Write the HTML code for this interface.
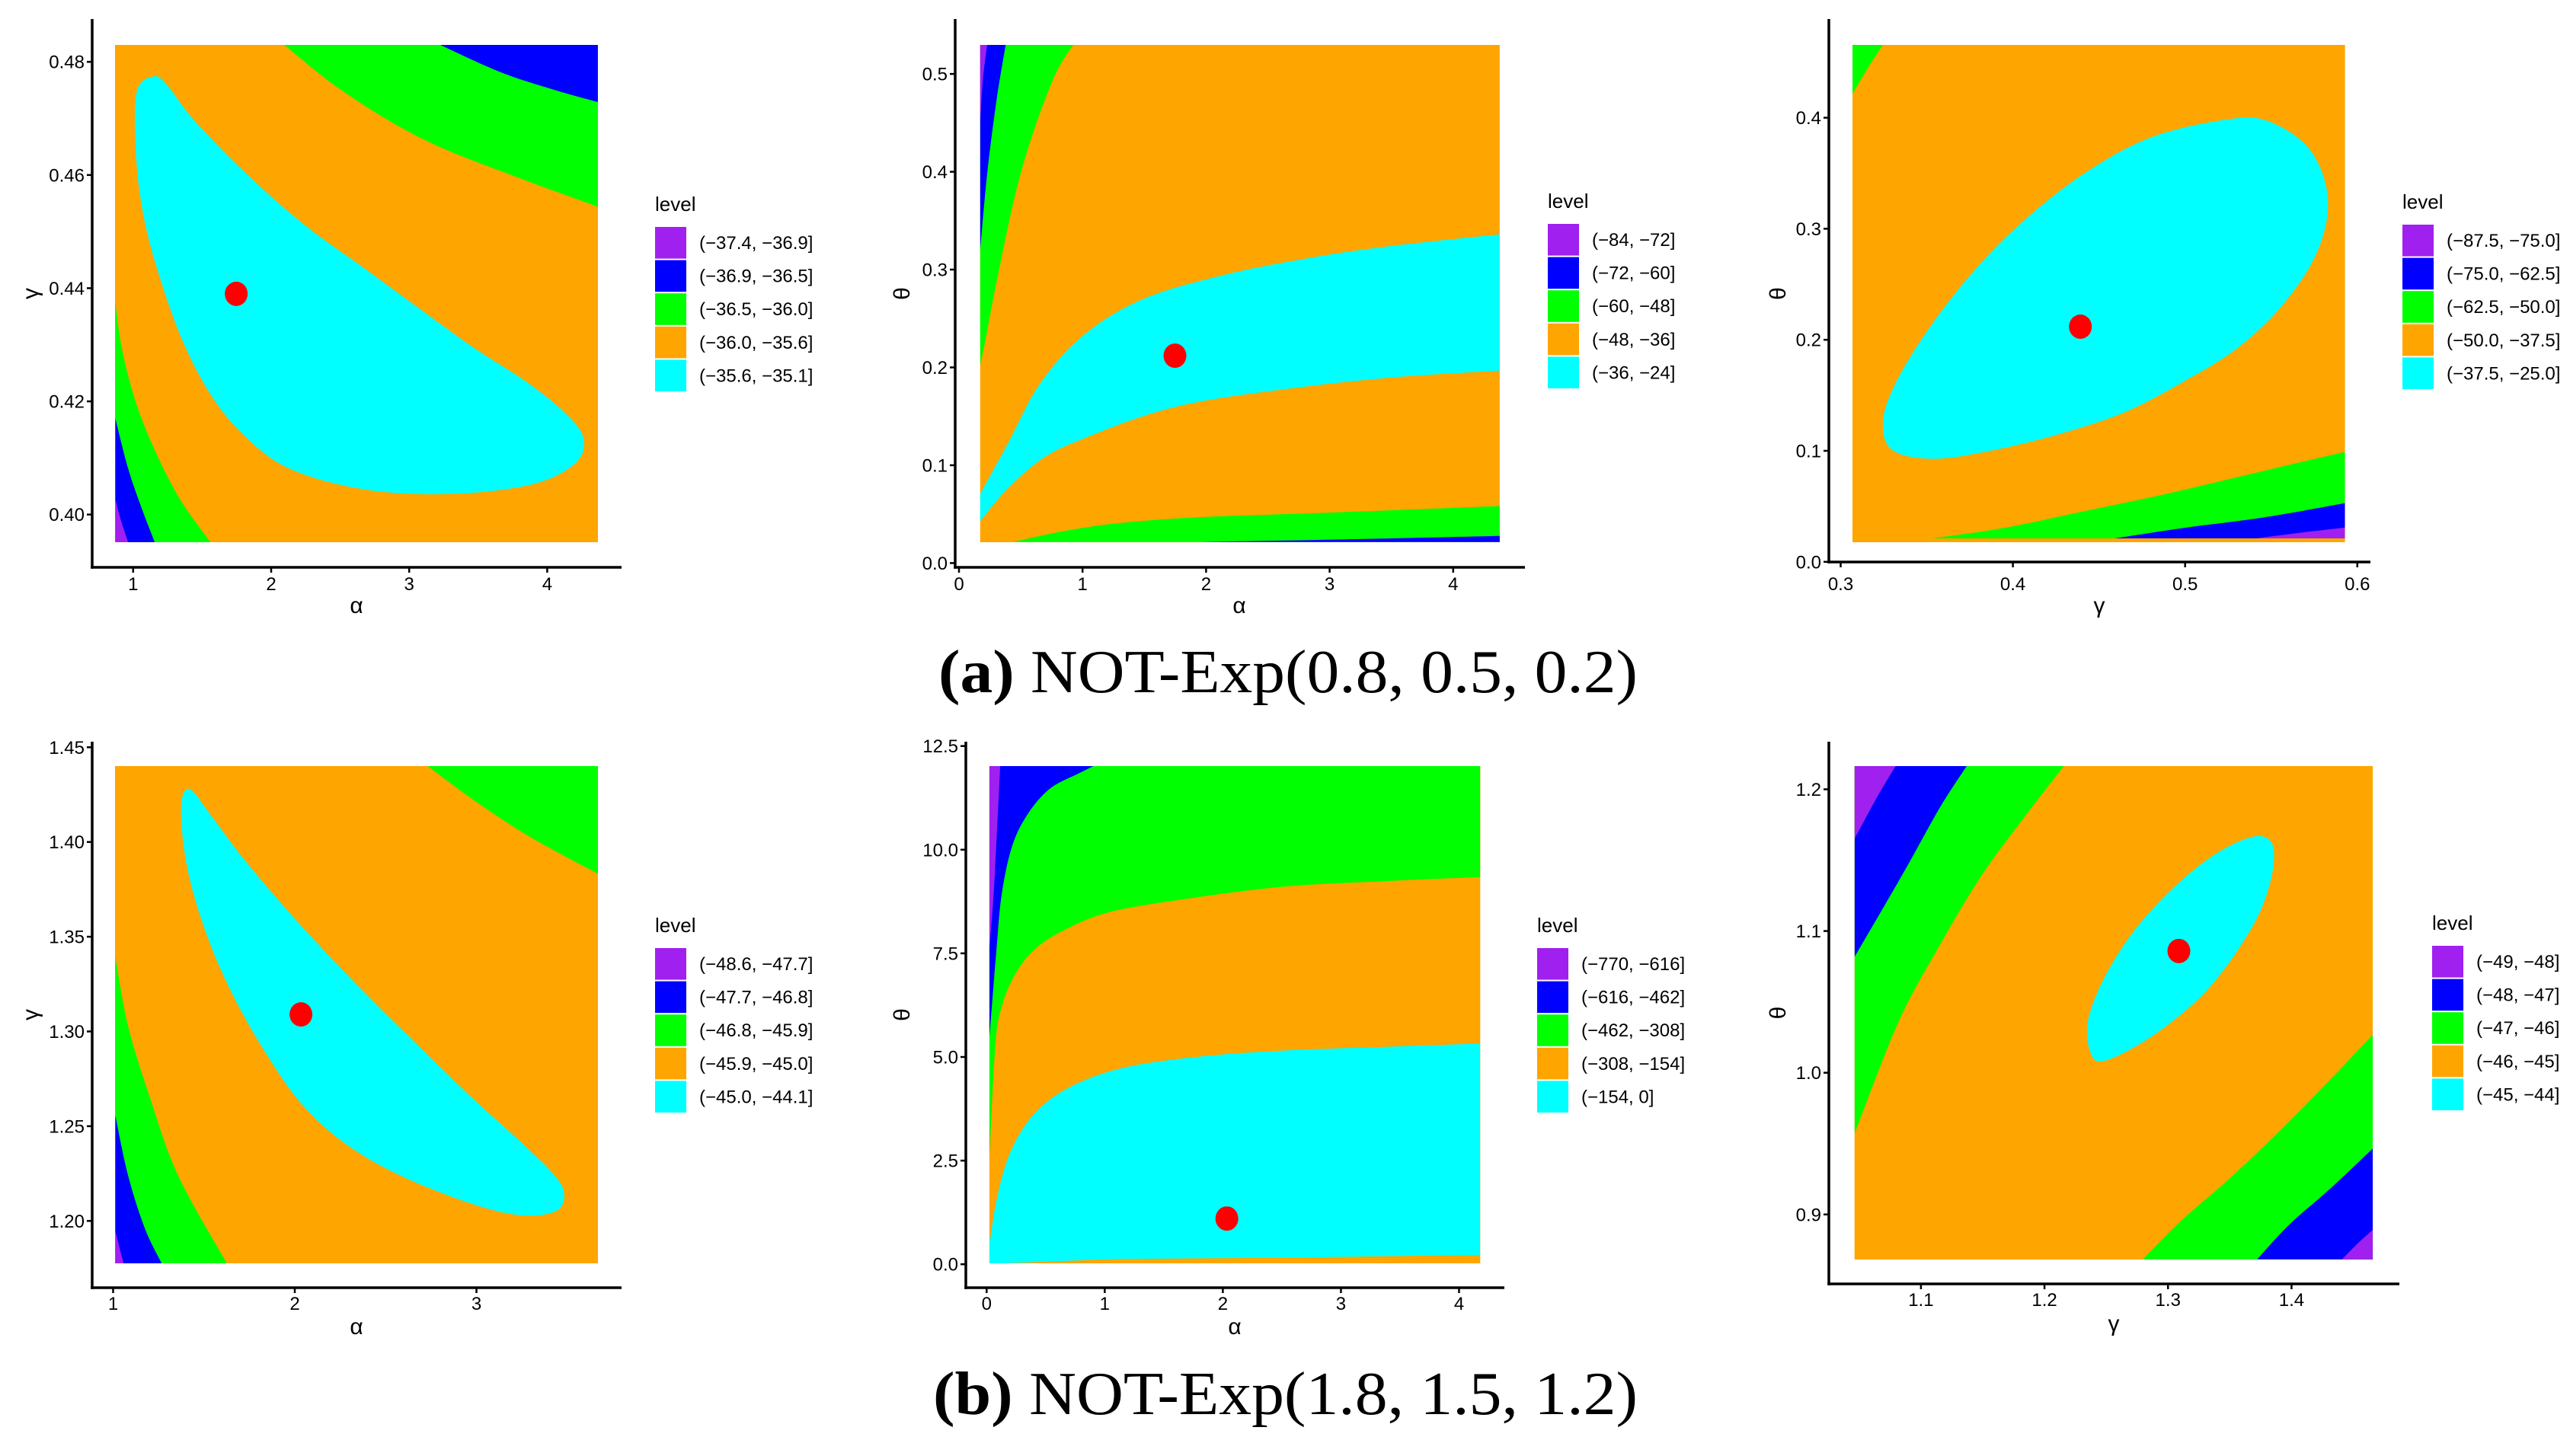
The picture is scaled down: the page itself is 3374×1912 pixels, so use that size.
<!DOCTYPE html>
<html><head><meta charset="utf-8"><style>
html,body{margin:0;padding:0;background:#fff;}
svg{display:block;}
text{font-family:"Liberation Sans",sans-serif;fill:#000;}
.cap{font-family:"Liberation Serif",serif;font-size:80px;}
</style></head><body>
<svg id="fig" width="3374" height="1912" viewBox="0 0 3374 1912" xmlns="http://www.w3.org/2000/svg">
<text class="cap" x="1232" y="909" textLength="918" lengthAdjust="spacingAndGlyphs"><tspan font-weight="bold">(a)</tspan> NOT-Exp(0.8, 0.5, 0.2)</text>
<text class="cap" x="1225" y="1857" textLength="925" lengthAdjust="spacingAndGlyphs"><tspan font-weight="bold">(b)</tspan> NOT-Exp(1.8, 1.5, 1.2)</text>
</svg>
<script>
// ---------- data ----------
const colors = ["#A020F0","#0000FF","#00FF00","#FFA500","#00FFFF"];
const p1Levels = ["(−37.4, −36.9]","(−36.9, −36.5]","(−36.5, −36.0]","(−36.0, −35.6]","(−35.6, −35.1]"];
const p2Levels = ["(−84, −72]","(−72, −60]","(−60, −48]","(−48, −36]","(−36, −24]"];
const p3Levels = ["(−87.5, −75.0]","(−75.0, −62.5]","(−62.5, −50.0]","(−50.0, −37.5]","(−37.5, −25.0]"];
const p4Levels = ["(−48.6, −47.7]","(−47.7, −46.8]","(−46.8, −45.9]","(−45.9, −45.0]","(−45.0, −44.1]"];
const p5Levels = ["(−770, −616]","(−616, −462]","(−462, −308]","(−308, −154]","(−154, 0]"];
const p6Levels = ["(−49, −48]","(−48, −47]","(−47, −46]","(−46, −45]","(−45, −44]"];

const p1XTicks = [1,2,3,4];
const p1YTicks = [0.40,0.42,0.44,0.46,0.48];
const p2XTicks = [0,1,2,3,4];
const p2YTicks = [0.0,0.1,0.2,0.3,0.4,0.5];
const p3XTicks = [0.3,0.4,0.5,0.6];
const p3YTicks = [0.0,0.1,0.2,0.3,0.4];
const p4XTicks = [1,2,3];
const p4YTicks = [1.20,1.25,1.30,1.35,1.40,1.45];
const p5XTicks = [0,1,2,3,4];
const p5YTicks = [0.0,2.5,5.0,7.5,10.0,12.5];
const p6XTicks = [1.1,1.2,1.3,1.4];
const p6YTicks = [0.9,1.0,1.1,1.2];

// estimate points (MLE)
const p1Mle = [1.747,0.439];
const p2Mle = [1.748,0.212];
const p3Mle = [0.4392,0.2118];
const p4Mle = [2.034,1.309];
const p5Mle = [2.034,1.102];
const p6Mle = [1.3088,1.0859];

// contour region boundaries (data units)
const p1GreenTR = [[2.094,0.483],[2.457,0.4759],[2.861,0.4695],[3.265,0.4645],[3.870,0.4588],[4.367,0.4544]];
const p1BlueTR = [[3.224,0.483],[3.669,0.4781],[4.072,0.4749],[4.367,0.4729]];
const p1Cyan = [[1.145,0.4774],[1.024,0.4745],[1.024,0.4624],[1.085,0.4516],[1.206,0.4409],[1.367,0.4302],[1.569,0.4209],[1.811,0.4138],[2.134,0.4081],[2.659,0.4045],[3.265,0.4036],[3.870,0.4052],[4.193,0.4088],[4.266,0.4131],[4.153,0.4174],[3.870,0.4231],[3.467,0.4295],[3.063,0.4366],[2.659,0.4438],[2.256,0.4509],[1.852,0.4595],[1.448,0.4695],[1.246,0.4759]];
const p1GreenL = [[0.871,0.4374],[0.923,0.4288],[1.024,0.4195],[1.166,0.4109],[1.347,0.4024],[1.561,0.3951]];
const p1BlueL = [[0.871,0.4170],[0.964,0.4081],[1.065,0.4009],[1.157,0.3951]];
const p1PurpleL = [[0.871,0.4027],[0.914,0.3988],[0.964,0.3951]];

const p2GreenTL = [[0.926,0.5298],[0.786,0.501],[0.610,0.4434],[0.457,0.3773],[0.303,0.2864],[0.215,0.2285],[0.171,0.2017]];
const p2BlueTL = [[0.378,0.5298],[0.303,0.4723],[0.228,0.398],[0.171,0.319]];
const p2PurpleTL = [[0.228,0.5298],[0.193,0.493],[0.171,0.4475]];
const p2CyanUpper = [[0.171,0.0707],[0.391,0.1211],[0.654,0.1831],[1.005,0.2326],[1.488,0.2698],[2.147,0.2946],[2.806,0.3112],[3.464,0.3236],[4.378,0.3360]];
const p2CyanLower = [[4.378,0.1967],[3.464,0.1893],[2.586,0.1769],[1.928,0.1645],[1.488,0.15],[1.049,0.1293],[0.698,0.1087],[0.391,0.0756],[0.171,0.0426]];
const p2GreenB = [[0.435,0.0215],[0.830,0.0322],[1.269,0.0405],[1.928,0.0467],[3.025,0.0517],[4.378,0.0583]];
const p2BlueB = [[1.950,0.0215],[3.025,0.024],[4.378,0.0277]];

const p3GreenTL = [[0.3245,0.4655],[0.317,0.4477],[0.3069,0.4215]];
const p3Cyan = [[0.3305,0.1001],[0.3245,0.1238],[0.3305,0.1565],[0.3484,0.2038],[0.3753,0.2584],[0.4052,0.3057],[0.4410,0.3494],[0.4799,0.3822],[0.5247,0.3985],[0.5486,0.3967],[0.5725,0.3712],[0.5829,0.3276],[0.5770,0.2803],[0.5575,0.2329],[0.5307,0.1929],[0.5008,0.1638],[0.4649,0.1347],[0.4261,0.1147],[0.3872,0.1001],[0.3544,0.0928]];
const p3GreenB = [[0.3529,0.0211],[0.3962,0.0309],[0.4410,0.0455],[0.4858,0.0601],[0.5307,0.0764],[0.5605,0.0874],[0.5928,0.0990]];
const p3BlueB = [[0.4589,0.0211],[0.5008,0.0309],[0.5456,0.0400],[0.5928,0.0528]];
const p3PurpleB = [[0.5411,0.0211],[0.5665,0.0262],[0.5928,0.0309]];

const p4GreenTR = [[2.730,1.4402],[2.985,1.4221],[3.291,1.4029],[3.669,1.3832]];
const p4Cyan = [[1.420,1.428],[1.374,1.4178],[1.405,1.3879],[1.497,1.3559],[1.635,1.3239],[1.819,1.2919],[2.034,1.2621],[2.279,1.2407],[2.586,1.2237],[2.985,1.2087],[3.261,1.2028],[3.445,1.2056],[3.482,1.2152],[3.414,1.2258],[3.230,1.2429],[2.985,1.2642],[2.709,1.2898],[2.371,1.3218],[2.034,1.3559],[1.727,1.3901],[1.543,1.4135]];
const p4GreenL = [[1.0123,1.3393],[1.083,1.3026],[1.206,1.2642],[1.359,1.2237],[1.626,1.1776]];
const p4BlueL = [[1.0123,1.2557],[1.083,1.2237],[1.175,1.196],[1.267,1.1776]];
const p4PurpleL = [[1.0123,1.1949],[1.037,1.1853],[1.058,1.1776]];

const p5GreenUpper = [[0.023,2.516],[0.073,5.246],[0.129,6.221],[0.243,7.001],[0.404,7.586],[0.634,8.025],[1.001,8.463],[1.552,8.756],[2.471,9.097],[3.389,9.243],[4.179,9.341]];
const p5BlueTL = [[0.909,12.022],[0.771,11.827],[0.542,11.486],[0.358,10.901],[0.220,10.121],[0.129,8.951],[0.083,7.586],[0.023,5.441]];
const p5PurpleTL = [[0.115,12.022],[0.064,9.146],[0.023,7.586]];
const p5CyanUpper = [[0.023,0.468],[0.083,1.541],[0.175,2.516],[0.312,3.296],[0.496,3.881],[0.772,4.368],[1.185,4.758],[1.782,5.002],[2.471,5.148],[3.389,5.246],[4.179,5.324]];
const p5CyanLower = [[4.179,0.224],[2.471,0.156],[1.093,0.127],[0.129,0.0195],[0.023,0.0195]];

const p6GreenTL = [[1.2158,1.2165],[1.1817,1.178],[1.1483,1.1381],[1.115,1.0896],[1.0817,1.0355],[1.0463,0.957]];
const p6BlueTL = [[1.1371,1.2165],[1.115,1.1866],[1.0858,1.141],[1.0463,1.0817]];
const p6PurpleTL = [[1.0796,1.2165],[1.065,1.1952],[1.0463,1.1652]];
const p6GreenBR = [[1.4658,1.0269],[1.4317,0.9955],[1.39,0.9585],[1.3483,0.9242],[1.3108,0.8957],[1.2796,0.8683]];
const p6BlueBR = [[1.4658,0.9465],[1.4317,0.9185],[1.3983,0.8929],[1.3721,0.8683]];
const p6PurpleBR = [[1.4658,0.8892],[1.4525,0.8786],[1.4408,0.8683]];
const p6Cyan = [[1.3692,1.1666],[1.3838,1.1624],[1.385,1.1438],[1.3754,1.1153],[1.3567,1.0868],[1.3317,1.0583],[1.3025,1.0355],[1.2733,1.0183],[1.2483,1.0084],[1.2379,1.0126],[1.235,1.0355],[1.2483,1.0668],[1.2733,1.101],[1.3067,1.1324],[1.34,1.1552]];

// ---------- layout ----------
const NS = "http://www.w3.org/2000/svg";
const svg = document.getElementById('fig');
function mk(tag, attrs, parent){const e=document.createElementNS(NS,tag);for(const k in attrs)e.setAttribute(k,attrs[k]);(parent||svg).appendChild(e);return e;}

const panels = [
 {id:'p1', plot:[151,59,785,712], x0:1, xpx:174.8, xs:181.2, y0:0.48, ypx:81.2, ys:7431, axis:{l:121,t:25,b:745,r:816},
  xt:p1XTicks, yt:p1YTicks, xd:0, yd:2, xl:'α', yl:'γ', ylx:40, xlab:468, xtb:775, xtitle:805, leg:{x:860,y:298}, levels:p1Levels, mle:p1Mle,
  regions:[
   {c:colors[2], segs:[['c',p1GreenTR],['l',[[4.367,0.483]]]]},
   {c:colors[1], segs:[['c',p1BlueTR],['l',[[4.367,0.483]]]]},
   {c:colors[4], closed:p1Cyan},
   {c:colors[2], segs:[['c',p1GreenL],['l',[[0.871,0.3951]]]]},
   {c:colors[1], segs:[['c',p1BlueL],['l',[[0.871,0.3951]]]]},
   {c:colors[0], segs:[['c',p1PurpleL],['l',[[0.871,0.3951]]]]}
  ]},
 {id:'p2', plot:[1286.8,59,1968.9,712], x0:0, xpx:1259.0, xs:162.2, y0:0, ypx:739.4, ys:1284.6, axis:{l:1254,t:25,b:745,r:2002},
  xt:p2XTicks, yt:p2YTicks, xd:0, yd:1, xl:'α', yl:'θ', ylx:1184, xlab:1627, xtb:775, xtitle:805, leg:{x:2032,y:294}, levels:p2Levels, mle:p2Mle,
  regions:[
   {c:colors[2], segs:[['c',p2GreenTL],['l',[[0.171,0.5298]]]]},
   {c:colors[1], segs:[['c',p2BlueTL],['l',[[0.171,0.5298]]]]},
   {c:colors[0], segs:[['c',p2PurpleTL],['l',[[0.171,0.5298]]]]},
   {c:colors[4], segs:[['c',p2CyanUpper],['c',p2CyanLower]]},
   {c:colors[2], segs:[['c',p2GreenB],['l',[[4.378,0.0215]]]]},
   {c:colors[1], segs:[['c',p2BlueB],['l',[[4.378,0.0215]]]]}
  ]},
 {id:'p3', plot:[2432,59,3078.6,712], x0:0.3, xpx:2416.5, xs:2261, y0:0, ypx:737.8, ys:1458, axis:{l:2401,t:25,b:738,r:3112},
  xt:p3XTicks, yt:p3YTicks, xd:1, yd:1, xl:'γ', yl:'θ', ylx:2334, xlab:2756, xtb:775, xtitle:805, leg:{x:3154,y:295}, levels:p3Levels, mle:p3Mle,
  regions:[
   {c:colors[2], segs:[['c',p3GreenTL],['l',[[0.3069,0.4655]]]]},
   {c:colors[4], closed:p3Cyan},
   {c:colors[2], segs:[['c',p3GreenB],['l',[[0.5928,0.0211]]]]},
   {c:colors[1], segs:[['c',p3BlueB],['l',[[0.5928,0.0211]]]]},
   {c:colors[0], segs:[['c',p3PurpleB],['l',[[0.5928,0.0211]]]]}
  ]},
 {id:'p4', plot:[151,1006,785,1659], x0:1, xpx:148.5, xs:238.5, y0:1.45, ypx:981.3, ys:2488, axis:{l:121,t:974,b:1691,r:816},
  xt:p4XTicks, yt:p4YTicks, xd:0, yd:2, xl:'α', yl:'γ', ylx:40, xlab:468, xtb:1720, xtitle:1752, leg:{x:860,y:1245}, levels:p4Levels, mle:p4Mle,
  regions:[
   {c:colors[2], segs:[['c',p4GreenTR],['l',[[3.669,1.4402]]]]},
   {c:colors[4], closed:p4Cyan},
   {c:colors[2], segs:[['c',p4GreenL],['l',[[1.0123,1.1776]]]]},
   {c:colors[1], segs:[['c',p4BlueL],['l',[[1.0123,1.1776]]]]},
   {c:colors[0], segs:[['c',p4PurpleL],['l',[[1.0123,1.1776]]]]}
  ]},
 {id:'p5', plot:[1298.9,1006,1943.3,1659], x0:0, xpx:1295.3, xs:155.05, y0:0, ypx:1660.2, ys:54.44, axis:{l:1268,t:974,b:1691,r:1975},
  xt:p5XTicks, yt:p5YTicks, xd:0, yd:1, xl:'α', yl:'θ', ylx:1184, xlab:1621, xtb:1720, xtitle:1752, leg:{x:2018,y:1245}, levels:p5Levels, mle:p5Mle,
  regions:[
   {c:colors[2], segs:[['c',p5GreenUpper],['l',[[4.179,12.022],[0.023,12.022]]]]},
   {c:colors[1], segs:[['c',p5BlueTL],['l',[[0.023,12.022]]]]},
   {c:colors[0], segs:[['c',p5PurpleTL],['l',[[0.023,12.022]]]]},
   {c:colors[4], segs:[['c',p5CyanUpper],['l',p5CyanLower]]}
  ]},
 {id:'p6', plot:[2434.7,1006,3115.1,1654], x0:1.1, xpx:2521.9, xs:1621.7, y0:1.2, ypx:1036.5, ys:1861, axis:{l:2401,t:974,b:1686,r:3150},
  xt:p6XTicks, yt:p6YTicks, xd:1, yd:1, xl:'γ', yl:'θ', ylx:2334, xlab:2775, xtb:1715, xtitle:1748, leg:{x:3193,y:1242}, levels:p6Levels, mle:p6Mle,
  regions:[
   {c:colors[2], segs:[['c',p6GreenTL],['l',[[1.0463,1.2165]]]]},
   {c:colors[1], segs:[['c',p6BlueTL],['l',[[1.0463,1.2165]]]]},
   {c:colors[0], segs:[['c',p6PurpleTL],['l',[[1.0463,1.2165]]]]},
   {c:colors[2], segs:[['c',p6GreenBR],['l',[[1.4658,0.8683]]]]},
   {c:colors[1], segs:[['c',p6BlueBR],['l',[[1.4658,0.8683]]]]},
   {c:colors[0], segs:[['c',p6PurpleBR],['l',[[1.4658,0.8683]]]]},
   {c:colors[4], closed:p6Cyan}
  ]}
];

function crCurve(pts, start){ // catmull-rom open; pts in px
  let d = start ? 'M'+pts[0][0]+','+pts[0][1] : 'L'+pts[0][0]+','+pts[0][1];
  for(let i=0;i<pts.length-1;i++){
    const p0=pts[i-1]||pts[i], p1=pts[i], p2=pts[i+1], p3=pts[i+2]||pts[i+1];
    const c1=[p1[0]+(p2[0]-p0[0])/6, p1[1]+(p2[1]-p0[1])/6];
    const c2=[p2[0]-(p3[0]-p1[0])/6, p2[1]-(p3[1]-p1[1])/6];
    d+='C'+c1[0].toFixed(1)+','+c1[1].toFixed(1)+' '+c2[0].toFixed(1)+','+c2[1].toFixed(1)+' '+p2[0].toFixed(1)+','+p2[1].toFixed(1);
  }
  return d;
}
function crClosed(pts){
  const n=pts.length; let d='M'+pts[0][0]+','+pts[0][1];
  for(let i=0;i<n;i++){
    const p0=pts[(i-1+n)%n], p1=pts[i], p2=pts[(i+1)%n], p3=pts[(i+2)%n];
    const c1=[p1[0]+(p2[0]-p0[0])/6, p1[1]+(p2[1]-p0[1])/6];
    const c2=[p2[0]-(p3[0]-p1[0])/6, p2[1]-(p3[1]-p1[1])/6];
    d+='C'+c1[0].toFixed(1)+','+c1[1].toFixed(1)+' '+c2[0].toFixed(1)+','+c2[1].toFixed(1)+' '+p2[0].toFixed(1)+','+p2[1].toFixed(1);
  }
  return d+'Z';
}

const defs = mk('defs',{});
panels.forEach((P,pi)=>{
  const sx = v => P.xpx + (v-P.x0)*P.xs;
  const sy = v => P.ypx - (v-P.y0)*P.ys;
  const g = mk('g',{});
  
  
  const [x1,y1,x2,y2] = P.plot;
  const cp = mk('clipPath',{id:'clip'+P.id},defs);
  mk('rect',{x:x1,y:y1,width:x2-x1,height:y2-y1},cp);
  const bg = mk('rect',{x:x1,y:y1,width:x2-x1,height:y2-y1,fill:colors[3]},g);
  
  
  const rg = mk('g',{'clip-path':'url(#clip'+P.id+')'},g);
  P.regions.forEach((R,ri)=>{
    let d='';
    if(R.closed){ d = crClosed(R.closed.map(p=>[sx(p[0]),sy(p[1])])); }
    else {
      R.segs.forEach((s,si)=>{
        const px = s[1].map(p=>[sx(p[0]),sy(p[1])]);
        if(s[0]==='c') d += crCurve(px, si===0);
        else px.forEach((p,k)=>{ d += ((si===0&&k===0)?'M':'L')+p[0].toFixed(1)+','+p[1].toFixed(1); });
      });
      d+='Z';
    }
    const path = mk('path',{d:d,fill:R.c},rg);
    
    
  });
  const dot = mk('ellipse',{cx:sx(P.mle[0]),cy:sy(P.mle[1]),rx:15,ry:16,fill:'#FF0000'},g);
  
  
  // axes
  const A=P.axis;
  const ya = mk('line',{x1:A.l,y1:A.t,x2:A.l,y2:A.b+1.75,stroke:'#000','stroke-width':3.5},g);
  
  
  const xa = mk('line',{x1:A.l-1.75,y1:A.b,x2:A.r,y2:A.b,stroke:'#000','stroke-width':3.5},g);
  
  
  P.xt.forEach(v=>{
    const x=sx(v);
    mk('line',{x1:x,y1:A.b,x2:x,y2:A.b+7,stroke:'#000','stroke-width':2.5},g);
    const t = mk('text',{x:x,y:P.xtb,'text-anchor':'middle','font-size':24,fill:'#111'},g);
    t.textContent = v.toFixed(P.xd);
    
    
  });
  P.yt.forEach(v=>{
    const y=sy(v);
    mk('line',{x1:A.l-7,y1:y,x2:A.l,y2:y,stroke:'#000','stroke-width':2.5},g);
    const t = mk('text',{x:A.l-10,y:y+8.5,'text-anchor':'end','font-size':24,fill:'#111'},g);
    t.textContent = v.toFixed(P.yd);
    
    
  });
  const xt = mk('text',{x:P.xlab,y:P.xtitle,'text-anchor':'middle','font-size':30},g);
  xt.textContent = P.xl;
  
  
  const cy=(y1+y2)/2;
  const yt = mk('text',{x:P.ylx,y:cy,'text-anchor':'middle','font-size':30,transform:'rotate(-90 '+P.ylx+' '+cy+')',dy:10},g);
  yt.textContent = P.yl;
  
  
  // legend
  const L=P.leg;
  const lt = mk('text',{x:L.x,y:L.y-21,'font-size':26},g);
  lt.textContent='level';
  
  
  P.levels.forEach((lab,i)=>{
    const y=L.y+i*43.6;
    const r = mk('rect',{x:L.x,y:y,width:41,height:41.6,fill:colors[i]},g);
    
    
    const t = mk('text',{x:L.x+58,y:y+29,'font-size':24,fill:'#111'},g);
    t.textContent = lab;
    
    
  });
});
</script>
</body></html>
